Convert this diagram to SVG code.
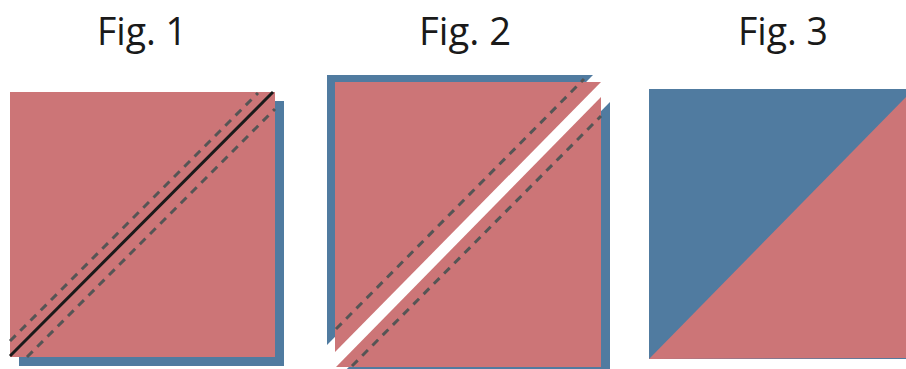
<svg xmlns="http://www.w3.org/2000/svg" width="906" height="369" viewBox="0 0 906 369">
<style>
.pink{fill:#CC7577}
.blue{fill:#507BA0}
.dash{stroke:#555;stroke-width:3;stroke-dasharray:8 6.5;fill:none}
.cut{stroke:#1a1a1a;stroke-width:3;fill:none}
.lbl{font-family:"Open Sans","Liberation Sans",sans-serif;font-size:38px;fill:#1a1a1a;text-anchor:middle}
</style>
<rect width="906" height="369" fill="#fff"/>
<g id="fig1">
<rect class="blue" x="19" y="101" width="265" height="265"/>
<rect class="pink" x="10" y="92" width="265" height="265"/>
<line class="dash" x1="10" y1="341" x2="258" y2="93"/>
<line class="dash" x1="27" y1="357" x2="275" y2="109"/>
<line class="cut" x1="10" y1="356" x2="273" y2="92"/>
<text class="lbl" x="142" y="45" textLength="90" lengthAdjust="spacingAndGlyphs">Fig. 1</text>
</g>
<g id="fig2">
<polygon class="blue" points="327,75 593,75 327,345"/>
<polygon class="blue" points="610,102 610,380 336,380"/>
<polygon class="pink" points="335,82 601,82 335,352"/>
<polygon class="pink" points="601,97 601,367 336,367"/>
<line class="dash" x1="336" y1="329" x2="584" y2="79"/>
<line class="dash" x1="352" y1="366" x2="601" y2="116"/>
<text class="lbl" x="465" y="45" textLength="92" lengthAdjust="spacingAndGlyphs">Fig. 2</text>
</g>
<g id="fig3">
<rect class="blue" x="649" y="89" width="257" height="270"/>
<polygon class="pink" points="649,359 906,97 906,358"/>
<text class="lbl" x="783" y="45" textLength="90" lengthAdjust="spacingAndGlyphs">Fig. 3</text>
</g>
<g id="connectors"/>
</svg>
